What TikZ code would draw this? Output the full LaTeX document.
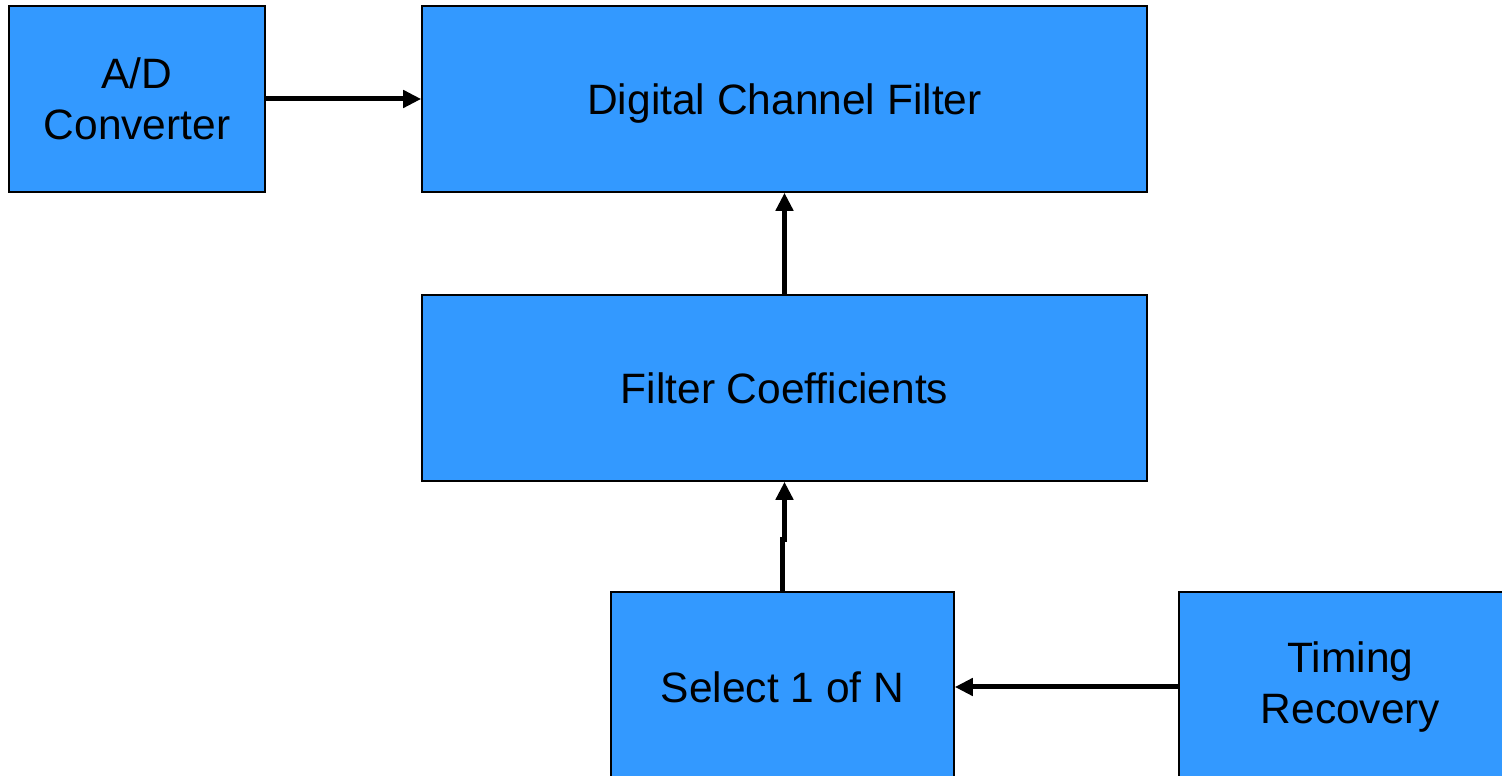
\documentclass[tikz,border=0pt]{standalone}
\usepackage{fontspec}
\setmainfont{Liberation Sans}
\usetikzlibrary{arrows.meta}
\definecolor{boxblue}{HTML}{3399FF}
\begin{document}
\begin{tikzpicture}[x=1pt,y=1pt,
  blk/.style={draw=black,line width=1.6pt,fill=boxblue,inner sep=0pt,align=center,
    font=\fontsize{42.5}{51}\selectfont},
  oneline/.style={text depth=0pt},
  arr/.style={line width=5pt,-{Triangle[length=18pt,width=17pt]}}]
\useasboundingbox (0,0) rectangle (1502,776);
\clip (0,0) rectangle (1502,776);
\node[blk,minimum width=256pt,minimum height=186pt] (ad) at (137,677) {A/D\\Converter};
\node[blk,oneline,minimum width=725pt,minimum height=186pt] (dcf) at (784.5,677) {Digital Channel Filter};
\node[blk,oneline,minimum width=725pt,minimum height=186pt] (fc) at (784.5,388) {Filter Coefficients};
\node[blk,oneline,minimum width=343pt,minimum height=190pt] (sel) at (782.5,89) {Select 1 of N};
\node[blk,minimum width=343pt,minimum height=190pt] (tr) at (1350.5,89) {Timing\\Recovery};
\draw[arr] (ad.east) -- (dcf.west);
\draw[arr] (fc.north) -- (dcf.south);
\draw[arr] (sel.north) -- ++(0,52) -| (fc.south);
\draw[arr] (tr.west) -- (sel.east);
\end{tikzpicture}
\end{document}
